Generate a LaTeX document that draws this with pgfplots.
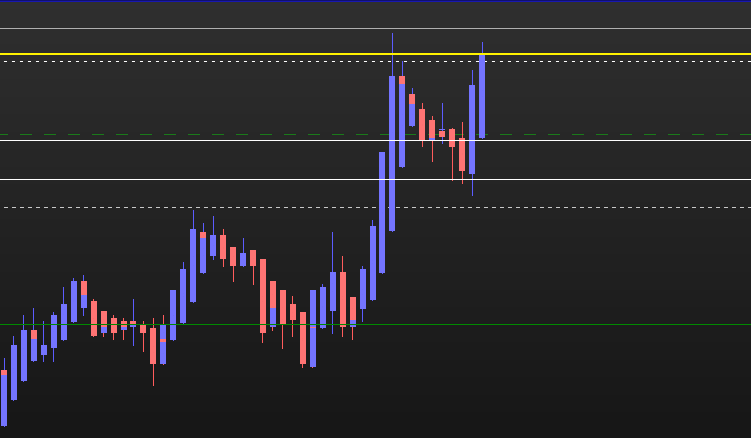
\documentclass[border=0pt]{standalone}
\usepackage{pgfplots}
\pgfplotsset{compat=1.18}
\usepackage{pgfplotstable}
\definecolor{bgtop}{HTML}{2F2F2F}
\definecolor{bgbot}{HTML}{161616}
\definecolor{bbody}{HTML}{7474FF}
\definecolor{rbody}{HTML}{FF7474}
\definecolor{bwick}{HTML}{5C5CFF}
\definecolor{rwick}{HTML}{FF5C5C}
\definecolor{navy1}{HTML}{101070}
\definecolor{navy2}{HTML}{1818B0}
\definecolor{lgray}{HTML}{B0B0B0}
\definecolor{dgray}{HTML}{C8C8C8}
\definecolor{gdash}{HTML}{1A7A1A}
\definecolor{gsolid}{HTML}{008A00}

% wicks: candle index, top pixel row, bottom pixel row
\pgfplotstableread{
x lo hi
0 358 427
1 336 401
2 315 382
3 308 362
4 321 362
5 312 362
6 287 341
7 278 323
8 275 316
13 299 346
17 290 341
18 262 324
19 210 303
20 223 274
21 216 260
24 238 267
32 284 329
33 232 334
36 266 322
37 220 301
38 152 274
39 33 232
40 61 168
41 88 127
44 103 144
47 70 196
48 42 139
}\bluewicks

\pgfplotstableread{
x lo hi
9 299 337
10 311 337
11 315 340
12 318 340
14 321 352
15 318 386
16 315 365
22 229 267
23 247 282
25 250 285
26 259 343
27 281 331
28 290 349
29 296 337
30 312 368
31 290 368
34 256 337
35 297 340
42 103 147
43 116 162
45 128 181
46 122 184
}\redwicks

\pgfplotstableread{
x lo hi
0 375 426
1 345 400
2 330 381
3 339 361
4 345 355
5 315 348
6 304 340
7 281 322
8 295 308
10 327 333
12 327 330
13 324 327
16 325 339
16 342 364
17 290 340
18 269 323
19 229 302
20 238 273
21 235 256
24 253 266
27 308 327
31 290 367
32 287 328
33 272 311
35 320 327
36 269 309
37 226 300
38 152 273
39 76 231
40 84 167
41 104 126
43 138 140
44 128.5 130
47 85 174
48 55 138
}\bluebodies

\pgfplotstableread{
x lo hi
0 370 375
3 330 339
8 281 295
9 301 336
10 311 327
11 318 333
12 321 327
13 321 324
14 324 333
15 328 364
16 339 342
20 232 238
22 235 259
23 247 266
25 250 266
26 259 333
27 281 308
28 290 324
29 304 320
30 312 364
31 326.5 327.5
34 272 327
35 297 320
40 76 84
41 94 104
42 109 140
43 120 138
44 131 137
45 129 147
46 138 171
}\redbodies

\begin{document}
\begin{tikzpicture}
\begin{axis}[
  width=751bp, height=438bp, scale only axis,
  xmin=-0.4016, xmax=75.0, ymin=0, ymax=438, y dir=reverse,
  axis line style={draw=none}, ticks=none, clip=true,
  axis background/.style={top color=bgtop, bottom color=bgbot},
  candle/.style n args={2}{only marks, mark=none, mark size=0pt,
    mark options={draw=none, fill=none},
    error bars/.cd, y dir=both, y explicit, error mark=none,
    error bar style={line width=#2, draw=#1}},
]
% background lines (behind candles)
\addplot[navy1, line width=1bp] coordinates {(-0.4016,0.5) (75,0.5)};
\addplot[navy2, line width=1bp] coordinates {(-0.4016,1.5) (75,1.5)};
\addplot[lgray, line width=1bp] coordinates {(-0.4016,28.3) (75,28.3)};
\addplot[white, line width=1bp, dash pattern=on 3.5bp off 4.5bp, dash phase=4.5bp] coordinates {(-0.4016,61.3) (75,61.3)};
\addplot[gdash, line width=1.1bp, dash pattern=on 12bp off 12bp, dash phase=4bp] coordinates {(-0.4016,134.3) (75,134.3)};
\addplot[dgray, line width=1bp, dash pattern=on 4bp off 4bp, dash phase=4bp] coordinates {(-0.4016,207.3) (75,207.3)};
% candles
\addplot[candle={bwick}{1bp}] table[x=x, y expr={(\thisrow{lo}+\thisrow{hi})/2}, y error expr={(\thisrow{hi}-\thisrow{lo})/2}] {\bluewicks};
\addplot[candle={rwick}{1bp}] table[x=x, y expr={(\thisrow{lo}+\thisrow{hi})/2}, y error expr={(\thisrow{hi}-\thisrow{lo})/2}] {\redwicks};
\addplot[candle={bbody}{6bp}] table[x=x, y expr={(\thisrow{lo}+\thisrow{hi})/2}, y error expr={(\thisrow{hi}-\thisrow{lo})/2}] {\bluebodies};
\addplot[candle={rbody}{6bp}] table[x=x, y expr={(\thisrow{lo}+\thisrow{hi})/2}, y error expr={(\thisrow{hi}-\thisrow{lo})/2}] {\redbodies};
% foreground lines
\addplot[yellow, line width=1.3bp] coordinates {(-0.4016,54) (75,54)};
\addplot[white, line width=1.1bp] coordinates {(-0.4016,140.3) (75,140.3)};
\addplot[white, line width=1.1bp] coordinates {(-0.4016,179.3) (75,179.3)};
\addplot[gsolid, line width=1bp] coordinates {(-0.4016,324) (75,324)};
\end{axis}
\end{tikzpicture}
\end{document}
